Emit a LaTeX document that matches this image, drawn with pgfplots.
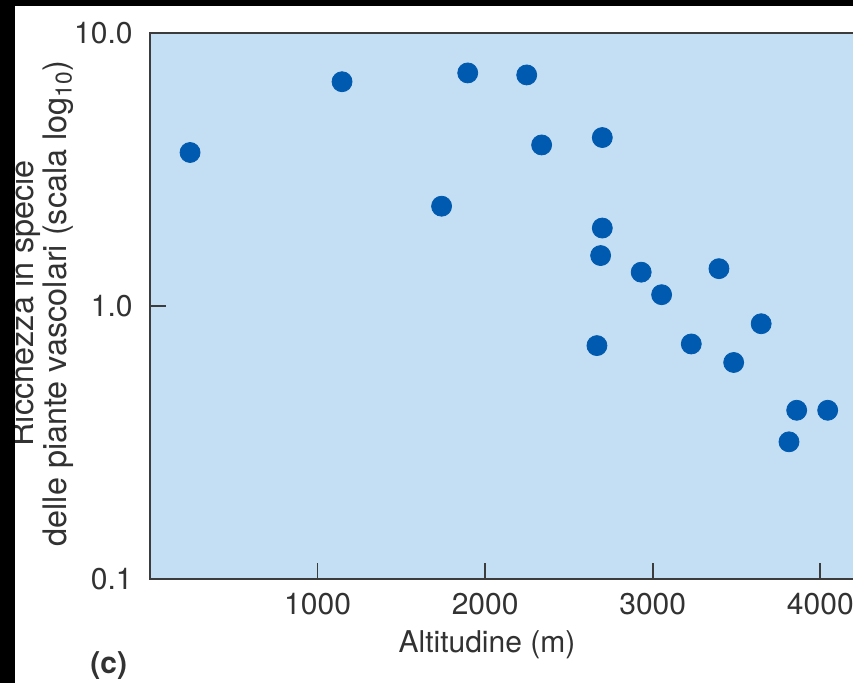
\documentclass[border=0pt]{standalone}
\usepackage{fontspec}
\setmainfont{TeX Gyre Heros}
\usepackage{pgfplots}
\pgfplotsset{compat=1.18}

\definecolor{panelblue}{RGB}{196,222,243}
\definecolor{dotblue}{RGB}{0,90,175}
\definecolor{axisgray}{RGB}{60,60,60}
\definecolor{textgray}{RGB}{50,50,50}

\begin{document}
\begin{tikzpicture}
% frame of the figure (1 px = 0.5 pt)
\path[use as bounding box] (0,0) rectangle (426.5pt,341.5pt);
\fill[white] (0,0) rectangle (426.5pt,341.5pt);
\begin{scope}
\clip (0,0) rectangle (426.5pt,341.5pt);
\begin{axis}[
  at={(75pt,52pt)}, anchor=south west,
  scale only axis,
  width=360.3pt, height=273pt,
  xmin=0, xmax=4300,
  ymode=log, ymin=0.1, ymax=10,
  xtick={1000,2000,3000,4000},
  ytick={0.1,1,10},
  yticklabels={0.1,1.0,10.0},
  yminorticks=false,
  xtick pos=left, ytick pos=left,
  tick align=inside,
  major tick length=8pt,
  axis background/.style={fill=panelblue},
  axis line style={line width=1pt, color=axisgray},
  every tick/.style={line width=0.9pt, color=axisgray},
  font=\fontsize{15}{17}\selectfont,
  /pgf/number format/assume math mode=true,
  /pgf/number format/1000 sep={},
  every tick label/.style={text=textgray, inner sep=0pt},
  xticklabel style={anchor=north, yshift=-7pt},
  yticklabel style={anchor=east, xshift=-8.5pt},
  xlabel={Altitudine (m)},
  every axis x label/.style={at={(axis description cs:0.4676,-0.1355)}, anchor=base, text=textgray, inner sep=0pt},
  ylabel={Ricchezza in specie\\delle piante vascolari (scala log\textsubscript{10})},
  every axis y label/.style={at={(axis description cs:-0.15,0.505)}, rotate=90, anchor=center, align=center, text=textgray, inner sep=0pt,
    font=\fontsize{16.2}{14.2}\selectfont},
]
\addplot[only marks, color=dotblue, mark=*, mark size=5pt,
         mark options={draw=dotblue, fill=dotblue}] coordinates {
  (239,3.65)
  (1146,6.63)
  (1896,7.14)
  (2248,7.02)
  (2337,3.89)
  (2699,4.14)
  (1740,2.32)
  (2699,1.93)
  (2689,1.53)
  (2931,1.33)
  (3053,1.10)
  (3395,1.37)
  (3647,0.861)
  (2667,0.716)
  (3230,0.726)
  (3483,0.621)
  (3859,0.415)
  (4044,0.415)
  (3813,0.318)
};
\end{axis}
\node[anchor=base west, inner sep=0pt, text=textgray,
      font=\fontsize{15}{17}\selectfont\bfseries] at (45pt,4.5pt) {(c)};
% dark edges along the top and left of the figure
\fill[black] (0,338.5pt) rectangle (426.5pt,341.5pt);
\fill[black] (0,0) rectangle (7.5pt,341.5pt);
\end{scope}
\end{tikzpicture}
\end{document}
